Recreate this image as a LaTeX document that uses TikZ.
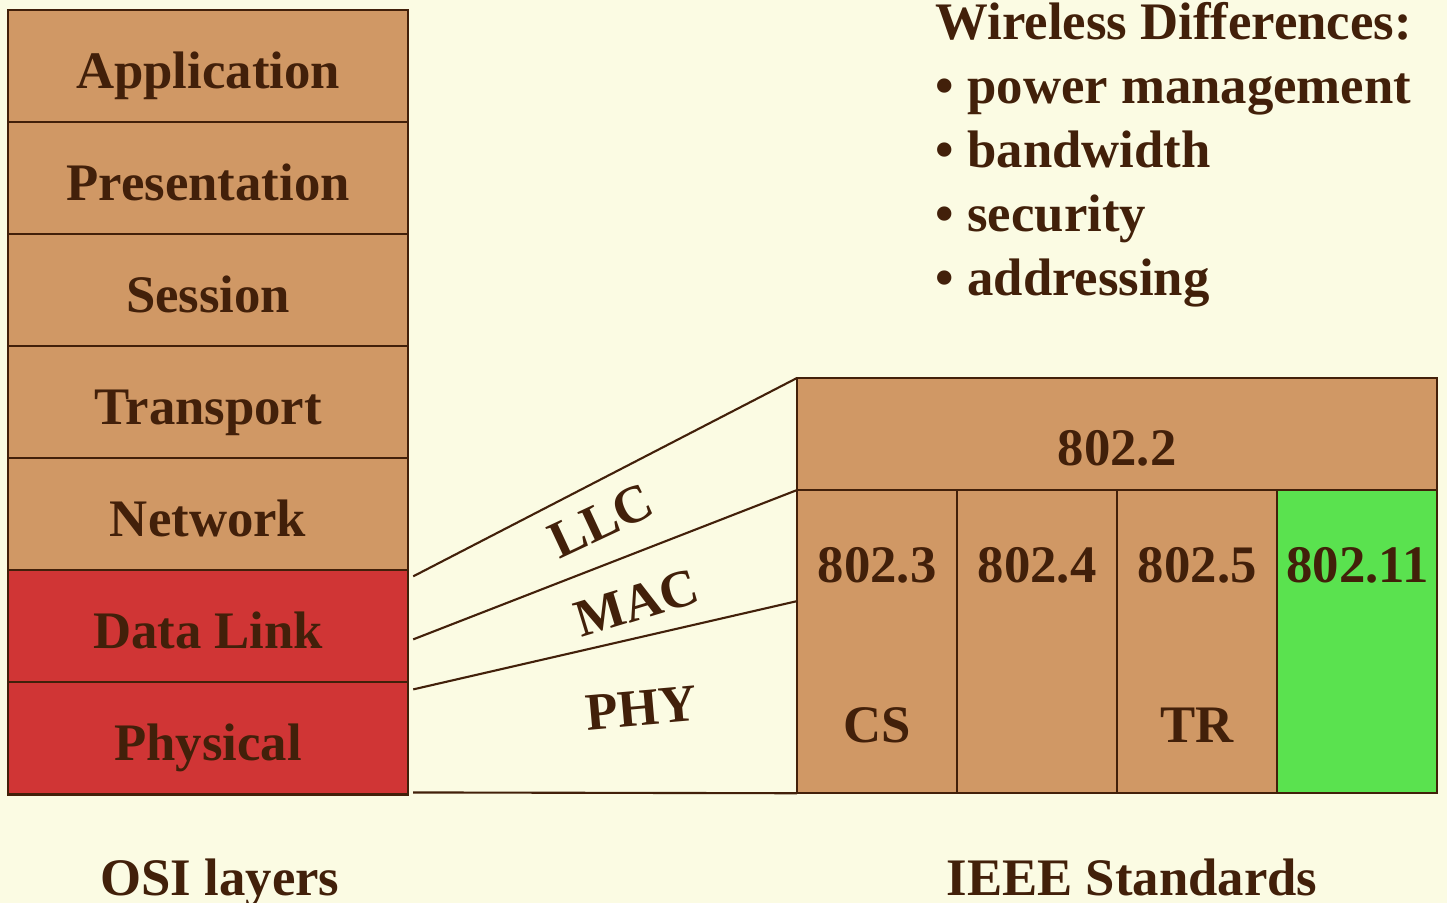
\documentclass[tikz,border=0pt]{standalone}
\usepackage{fontspec}
\setmainfont{Liberation Serif}
\usetikzlibrary{positioning}
\definecolor{paper}{HTML}{FBFBE3}
\definecolor{tan}{HTML}{D09865}
\definecolor{linkred}{HTML}{D03535}
\definecolor{wlgreen}{HTML}{5AE24F}
\definecolor{ink}{HTML}{42200A}

\begin{document}
\begin{tikzpicture}[
    x=0.01cm, y=-0.01cm,
    node distance=0pt,
    every node/.style={font=\fontsize{15}{18.2}\selectfont\bfseries, text=ink},
    layer/.style={draw=ink, line width=0.6pt, fill=tan, minimum width=4cm, minimum height=1.12cm, outer sep=0pt, inner sep=0pt, text height=0.45cm, text depth=0.01cm},
    std/.style={draw=ink, line width=0.6pt, fill=tan, minimum width=6.4cm, minimum height=1.12cm, outer sep=0pt, inner sep=0pt, text height=0.62cm, text depth=0pt},
    col/.style={draw=ink, line width=0.6pt, fill=tan, minimum width=1.6cm, minimum height=3.03cm, outer sep=0pt, inner sep=0pt},
    tag/.style={anchor=base, inner sep=0pt},
    sublbl/.style={inner sep=0pt},
    wire/.style={draw=ink, line width=0.6pt}
]
\fill[paper] (0,0) rectangle (1447,903);
\useasboundingbox (0,0) rectangle (1447,903);

% OSI stack
\node[layer, anchor=north west] (app) at (8,10) {Application};
\node[layer, below=of app] (pres) {Presentation};
\node[layer, below=of pres] (sess) {Session};
\node[layer, below=of sess] (trans) {Transport};
\node[layer, below=of trans] (net) {Network};
\node[layer, fill=linkred, below=of net] (dl) {Data Link};
\node[layer, fill=linkred, below=of dl] (phy) {Physical};

% IEEE block
\node[std, anchor=north west] (llc) at (797,378) {802.2};
\node[col, anchor=north west] (c3) at (llc.south west) {};
\node[col, right=of c3] (c4) {};
\node[col, right=of c4] (c5) {};
\node[col, fill=wlgreen, right=of c5] (c11) {};

\node[tag] (t3) at ([yshift=-0.92cm]c3.north) {802.3};
\node[tag] (t4) at ([yshift=-0.92cm]c4.north) {802.4};
\node[tag] (t5) at ([yshift=-0.92cm]c5.north) {802.5};
\node[tag] (t11) at ([yshift=-0.92cm]c11.north) {802.11};
\node[tag] (cs) at ([yshift=-2.52cm]c3.north) {CS};
\node[tag] (tr) at ([yshift=-2.52cm]c5.north) {TR};

% sublayer wires
\coordinate (l1) at ([xshift=0.05cm, yshift=-0.06cm]dl.north east);
\coordinate (l2) at ([xshift=0.05cm, yshift=-0.69cm]dl.north east);
\coordinate (l3) at ([xshift=0.05cm, yshift=-0.07cm]phy.north east);
\coordinate (l4) at ([xshift=0.05cm, yshift=0.02cm]phy.south east);
\coordinate (r3) at ([yshift=-1.11cm]c3.north west);

\draw[wire] (l1) -- (llc.north west);
\draw[wire] (l2) -- (c3.north west);
\draw[wire] (l3) -- (r3);
\draw[wire] (l4) -- (c3.south west);

\node[sublbl, rotate=25] (llcl) at (601,521) {LLC};
\node[sublbl, rotate=17] (macl) at (637,603) {MAC};
\node[sublbl, rotate=5] (phyl) at (641,708) {PHY};

% notes
\node[anchor=north west, align=left, inner sep=0pt] (diff) at (935,2) {Wireless Differences:\\
  \textbullet\ power management\\
  \textbullet\ bandwidth\\
  \textbullet\ security\\
  \textbullet\ addressing};

\node[tag] (osi) at (220,895) {OSI layers};
\node[tag] (ieee) at (1132,895) {IEEE Standards};
\end{tikzpicture}
\end{document}
